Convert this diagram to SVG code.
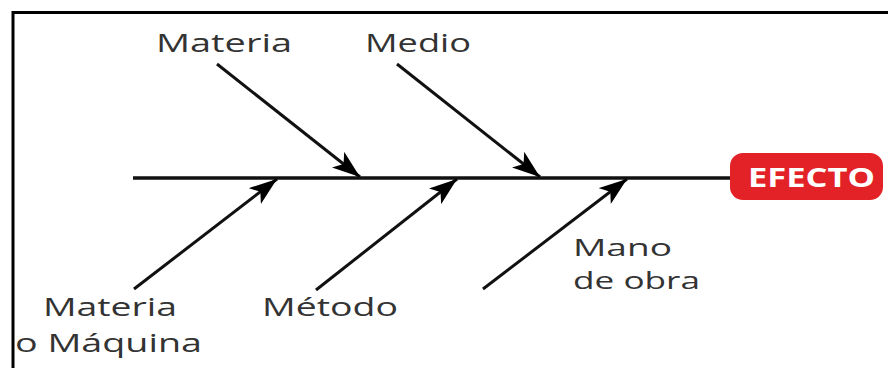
<svg xmlns="http://www.w3.org/2000/svg" width="888" height="368" viewBox="0 0 888 368">
<defs>
<style>
.lbl{font-family:"Open Sans","Liberation Sans",sans-serif;font-size:26px;fill:#333;}
.sm{font-size:24px;}
.eff{font-family:"Open Sans","Liberation Sans",sans-serif;font-size:26px;font-weight:bold;fill:#ffffff;}
.bone{stroke:#111;stroke-width:3;fill:none;marker-end:url(#ah);}
.frame{stroke:#000;stroke-width:3;fill:none;}
</style>
<marker id="ah" viewBox="0 0 28 20" refX="28" refY="10" markerWidth="28" markerHeight="20" markerUnits="userSpaceOnUse" orient="auto">
<path d="M0,0 L28,10 L0,20 L7,10 z" fill="#000"/>
</marker>
</defs>
<rect width="888" height="368" fill="#fff"/>
<path class="frame" d="M13,368 V12.5 H888"/>
<g id="connectors">
<line x1="133" y1="178" x2="735" y2="178" stroke="#111" stroke-width="3.5"/>
<line class="bone" x1="217" y1="64" x2="360" y2="177"/>
<line class="bone" x1="397" y1="64" x2="540" y2="177"/>
<line class="bone" x1="134" y1="289" x2="277" y2="179"/>
<line class="bone" x1="316" y1="290" x2="457" y2="179"/>
<line class="bone" x1="483" y1="289" x2="627" y2="179"/>
</g>
<g id="efecto">
<rect x="730" y="153" width="153" height="47" rx="13" fill="#e32227"/>
<text class="eff" x="748" y="187" textLength="127" lengthAdjust="spacingAndGlyphs">EFECTO</text>
</g>
<g id="materia-top">
<text class="lbl" x="156" y="52" textLength="136" lengthAdjust="spacingAndGlyphs">Materia</text>
</g>
<g id="medio">
<text class="lbl" x="365" y="52" textLength="106" lengthAdjust="spacingAndGlyphs">Medio</text>
</g>
<g id="materia-maquina">
<text class="lbl" x="43" y="316" textLength="134" lengthAdjust="spacingAndGlyphs">Materia</text>
<text class="lbl" x="15" y="352" textLength="187" lengthAdjust="spacingAndGlyphs">o Máquina</text>
</g>
<g id="metodo">
<text class="lbl" x="262" y="316" textLength="136" lengthAdjust="spacingAndGlyphs">Método</text>
</g>
<g id="mano-obra">
<text class="lbl sm" x="573" y="256" textLength="99" lengthAdjust="spacingAndGlyphs">Mano</text>
<text class="lbl sm" x="573" y="289" textLength="127" lengthAdjust="spacingAndGlyphs">de obra</text>
</g>
</svg>
